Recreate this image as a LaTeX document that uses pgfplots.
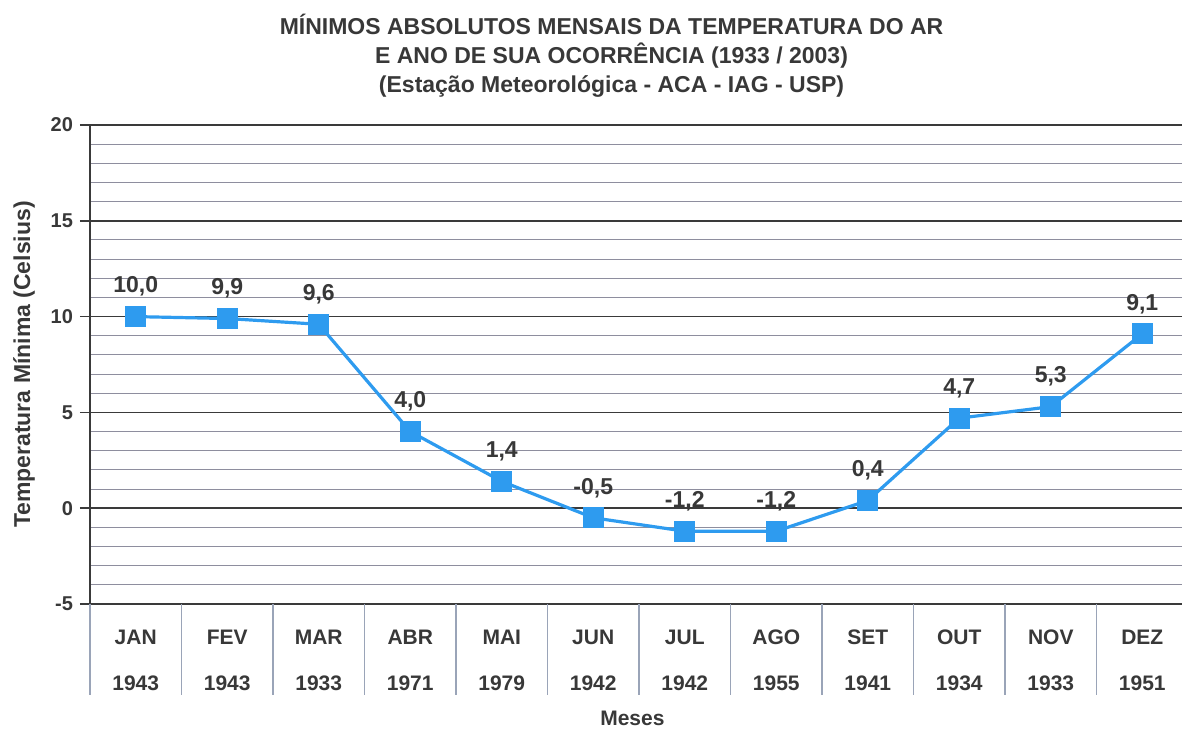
\documentclass[border=0pt]{standalone}
\usepackage{fontspec}
\setmainfont{Liberation Sans}
\usepackage{pgfplots}
\pgfplotsset{compat=1.18}
\usepackage{pgfplotstable}
\definecolor{cLine}{HTML}{2E9BEF}
\definecolor{cMajor}{HTML}{3A3A3A}
\definecolor{cMinor}{HTML}{8E8E9E}
\definecolor{cSep}{HTML}{9AA4B8}

\pgfplotstableread{
x  y     lab
0  10.0  10,0
1  9.9   9,9
2  9.6   9,6
3  4.0   4,0
4  1.4   1,4
5  -0.5  -0,5
6  -1.2  -1,2
7  -1.2  -1,2
8  0.4   0,4
9  4.7   4,7
10 5.3   5,3
11 9.1   9,1
}\mintemp

\begin{document}
\begin{tikzpicture}[font=\bfseries]
\begin{axis}[
    at={(0,0)}, anchor=south west,
    scale only axis,
    width=549pt, height=239.5pt,
    xmin=-0.5, xmax=11.5,
    ymin=-5, ymax=20,
    axis x line*=bottom,
    axis y line*=left,
    axis line style={cMajor, line width=1pt},
    xtick={0,...,11},
    xticklabels={{JAN\\1943},{FEV\\1943},{MAR\\1933},{ABR\\1971},{MAI\\1979},{JUN\\1942},
                 {JUL\\1942},{AGO\\1955},{SET\\1941},{OUT\\1934},{NOV\\1933},{DEZ\\1951}},
    x tick label style={font=\fontsize{10.5}{23}\selectfont\bfseries, align=center, anchor=north,
                        yshift=-4.5pt, text=black!78},
    major x tick style={draw=none},
    ytick={-5,0,5,10,15,20},
    minor y tick num=4,
    y tick label style={font=\fontsize{10}{12}\selectfont\bfseries, text=black!78},
    /pgf/number format/assume math mode=true,
    tick align=outside,
    major tick length=5pt,
    major y tick style={cMajor, line width=0.8pt},
    minor y tick style={draw=none},
    ymajorgrids, yminorgrids,
    major grid style={cMajor, line width=0.8pt},
    minor grid style={cMinor, line width=0.5pt},
    title={MÍNIMOS ABSOLUTOS MENSAIS DA TEMPERATURA DO AR\\E ANO DE SUA OCORRÊNCIA (1933 / 2003)\\(Estação Meteorológica - ACA - IAG - USP)},
    title style={at={(axis description cs:0.475,1.119)}, anchor=center, align=center,
                 font=\fontsize{11.5}{14.5}\selectfont\bfseries, text=black!78},
    xlabel={Meses},
    xlabel style={at={(axis description cs:0.494,-0.238)}, anchor=center,
                  font=\fontsize{10.5}{12}\selectfont\bfseries, text=black!78},
    ylabel={Temperatura Mínima (Celsius)},
    ylabel style={at={(axis description cs:-0.06,0.5)}, anchor=center,
                  font=\fontsize{11.5}{13}\selectfont\bfseries, text=black!78},
    clip=false,
]
\pgfplotsinvokeforeach{0,...,12}{
  \draw[cSep, line width=0.6pt] (axis cs:#1-0.5,-5) -- ++(0pt,-45.5pt);
}
\addplot[cLine, line width=1.6pt, mark=square*, mark size=4.5pt,
         mark options={fill=cLine, draw=cLine},
         nodes near coords, point meta=explicit symbolic,
         every node near coord/.append style={anchor=center, yshift=15pt,
            font=\fontsize{11.5}{13}\selectfont\bfseries, text=black!78}]
  table[x=x, y=y, meta=lab] {\mintemp};
\end{axis}
\pgfresetboundingbox
\path[use as bounding box] (-45pt,-63pt) rectangle (546pt,302pt);
\end{tikzpicture}
\end{document}
